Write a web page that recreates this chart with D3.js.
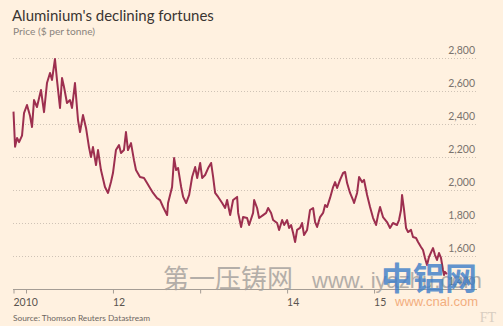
<!DOCTYPE html>
<html>
<head>
<meta charset="utf-8">
<script src="https://cdn.jsdelivr.net/npm/d3@7"></script>
<style>
  html, body { margin: 0; padding: 0; background: #FFF1E0; }
  svg { display: block; }
</style>
</head>
<body>
<svg id="chart" width="503" height="326"></svg>
<script>
// ---- Data ----
const years = [2010.856,2010.874,2010.897,2010.920,2010.954,2010.977,2011.011,2011.046,2011.069,2011.092,
  2011.126,2011.172,2011.207,2011.241,2011.276,2011.299,2011.333,2011.356,2011.391,2011.414,
  2011.437,2011.471,2011.506,2011.529,2011.563,2011.598,2011.621,2011.655,2011.690,2011.724,
  2011.747,2011.770,2011.805,2011.828,2011.862,2011.908,2011.943,2011.977,2012.000,2012.034,
  2012.069,2012.092,2012.126,2012.149,2012.172,2012.207,2012.241,2012.264,2012.310,2012.356,
  2012.391,2012.425,2012.460,2012.506,2012.540,2012.575,2012.621,2012.632,2012.678,2012.701,
  2012.724,2012.747,2012.782,2012.805,2012.839,2012.874,2012.908,2012.943,2012.966,2013.000,
  2013.023,2013.057,2013.092,2013.126,2013.149,2013.172,2013.207,2013.253,2013.287,2013.310,
  2013.345,2013.379,2013.425,2013.437,2013.471,2013.494,2013.540,2013.563,2013.609,2013.621,
  2013.655,2013.678,2013.724,2013.759,2013.782,2013.816,2013.839,2013.885,2013.908,2013.943,
  2013.966,2014.000,2014.023,2014.046,2014.069,2014.092,2014.115,2014.149,2014.172,2014.195,
  2014.230,2014.264,2014.299,2014.322,2014.345,2014.379,2014.414,2014.437,2014.460,2014.494,
  2014.529,2014.552,2014.575,2014.609,2014.644,2014.667,2014.690,2014.724,2014.759,2014.770,
  2014.805,2014.828,2014.862,2014.885,2014.920,2014.954,2014.989,2015.023,2015.046,2015.069,
  2015.103,2015.149,2015.184,2015.218,2015.264,2015.287,2015.310,2015.322,2015.345,2015.368,
  2015.391,2015.425,2015.448,2015.483,2015.506,2015.540,2015.563,2015.586,2015.609,2015.632,
  2015.667,2015.678,2015.701,2015.724,2015.747,2015.770,2015.793,2015.805,2015.816,2015.839];
const prices = [2475,2262,2315,2290,2330,2466,2515,2450,2382,2545,
  2503,2606,2472,2648,2709,2667,2794,2667,2497,2679,
  2624,2527,2545,2497,2648,2424,2351,2454,2376,2260,
  2200,2260,2151,2242,2121,2018,1982,2048,2103,2242,
  2272,2224,2242,2351,2242,2284,2181,2121,2079,2073,
  2042,2012,1982,1951,1939,1897,1848,1921,2018,2194,
  2121,2133,2018,1958,1921,1970,2079,2139,2073,2164,
  2073,2091,2133,2164,2079,1982,1958,1921,1891,1939,
  1848,1939,1958,1861,1776,1836,1830,1788,1861,1939,
  1891,1830,1848,1861,1891,1861,1818,1800,1758,1818,
  1788,1818,1770,1788,1739,1685,1758,1770,1800,1727,
  1758,1879,1891,1806,1776,1836,1861,1909,1897,1952,
  2018,2048,2012,2061,2103,2109,2042,1982,1939,1921,
  1982,2079,2048,2061,1970,1897,1830,1788,1848,1897,
  1836,1806,1770,1800,1788,1818,1879,1970,1879,1770,
  1745,1758,1715,1709,1685,1655,1636,1588,1545,1594,
  1636,1648,1606,1576,1618,1588,1515,1485,1503,1490];
const yTicks = [1400,1600,1800,2000,2200,2400,2600,2800];
const xTickYears = [2010.856, 2011, 2012, 2013, 2014, 2015];
const xTickLabels = ["2010", "", "12", "", "14", "15"];

const title = "Aluminium's declining fortunes";
const subtitle = "Price ($ per tonne)";
const source = "Source: Thomson Reuters Datastream";

// ---- Helpers ----
function toDate(y) {
  const yr = Math.floor(y);
  const start = new Date(yr, 0, 1), end = new Date(yr + 1, 0, 1);
  return new Date(+start + (y - yr) * (end - start));
}
const data = years.map((y, i) => ({ date: toDate(y), value: prices[i] }));

const svg = d3.select("#chart");
const W = 503, H = 326;
svg.append("rect").attr("width", W).attr("height", H).attr("fill", "#FFF1E0");

const x = d3.scaleTime()
  .domain([toDate(years[0]), toDate(years[years.length - 1])])
  .range([13.5, 447]);
const y = d3.scaleLinear().domain([1400, 2800]).range([289, 58]);

const gridRight = 477, gridLeft = 13;

// Gridlines
svg.append("g").selectAll("line")
  .data(yTicks.filter(t => t !== 1400))
  .join("line")
  .attr("x1", gridLeft).attr("x2", gridRight)
  .attr("y1", d => Math.round(y(d)) + 0.5).attr("y2", d => Math.round(y(d)) + 0.5)
  .attr("stroke", "#cfc3b6").attr("stroke-width", 1)
  .attr("stroke-dasharray", "1,2");

// Y labels (right aligned, sitting above the lines)
svg.append("g").selectAll("text")
  .data(yTicks)
  .join("text")
  .attr("x", 475).attr("y", d => y(d) - 4)
  .attr("text-anchor", "end")
  .attr("font-family", "Lato, 'Open Sans', sans-serif")
  .attr("font-size", 10.5)
  .attr("fill", "#7a736d")
  .text(d => d3.format(",")(d));

// X axis
const xAxis = d3.axisBottom(x)
  .tickValues(xTickYears.map(toDate))
  .tickSize(4)
  .tickFormat((d, i) => xTickLabels[i]);
const gx = svg.append("g").attr("transform", "translate(0,289.5)").call(xAxis);
gx.select(".domain").remove();
gx.append("line").attr("x1", gridLeft).attr("x2", gridRight).attr("y1", 0).attr("y2", 0)
  .attr("stroke", "#a59d95").attr("stroke-width", 1);
gx.selectAll(".tick line").attr("stroke", "#a59d95");
gx.selectAll(".tick text")
  .attr("text-anchor", "start")
  .attr("dx", "-0.5")
  .attr("y", 9)
  .attr("font-family", "Lato, 'Open Sans', sans-serif")
  .attr("font-size", 10.5)
  .attr("fill", "#5a544f");

// Line
const line = d3.line().x(d => x(d.date)).y(d => y(d.value)).curve(d3.curveLinear);
svg.append("path").datum(data)
  .attr("d", line)
  .attr("fill", "none")
  .attr("stroke", "#9d2f4f")
  .attr("stroke-width", 2)
  .attr("stroke-linejoin", "round");

// Titles
svg.append("text").attr("x", 12).attr("y", 21)
  .attr("font-family", "Lato, 'Open Sans', sans-serif")
  .attr("font-size", 15).attr("fill", "#3a3532")
  .text(title);
svg.append("text").attr("x", 13).attr("y", 35)
  .attr("font-family", "Lato, 'Open Sans', sans-serif")
  .attr("font-size", 10.2).attr("fill", "#8a837d")
  .text(subtitle);
svg.append("text").attr("x", 13).attr("y", 321)
  .attr("font-family", "Lato, 'Open Sans', sans-serif")
  .attr("font-size", 8.3).attr("fill", "#6d6661")
  .text(source);
svg.append("text").attr("x", 496).attr("y", 322)
  .attr("text-anchor", "end")
  .attr("font-family", "'Liberation Serif', 'DejaVu Serif', serif")
  .attr("font-size", 14).attr("fill", "#d8cdc1")
  .text("FT");

// Watermark overlay (as in the reference image)
const wm = svg.append("g").attr("pointer-events", "none");
wm.append("text").attr("x", 163).attr("y", 288)
  .attr("font-family", "'Noto Sans CJK SC', sans-serif")
  .attr("font-size", 26).attr("fill", "#a7a39f").attr("opacity", 0.85)
  .text("第一压铸网");
wm.append("text").attr("x", 312).attr("y", 288)
  .attr("font-family", "'Liberation Sans', Arial, sans-serif")
  .attr("font-size", 22).attr("fill", "#a7a39f").attr("opacity", 0.85)
  .text("www. iyazhu.com");
wm.append("text").attr("x", 381).attr("y", 290)
  .attr("font-family", "'Noto Sans CJK SC', sans-serif")
  .attr("font-weight", "bold")
  .attr("font-size", 32).attr("fill", "#3d7ec9").attr("opacity", 0.8)
  .text("中铝网");
wm.append("text").attr("x", 395).attr("y", 306)
  .attr("font-family", "'Liberation Sans', Arial, sans-serif")
  .attr("font-size", 13).attr("fill", "#f2a774").attr("opacity", 0.9)
  .text("www.cnal.com");
</script>
</body>
</html>
